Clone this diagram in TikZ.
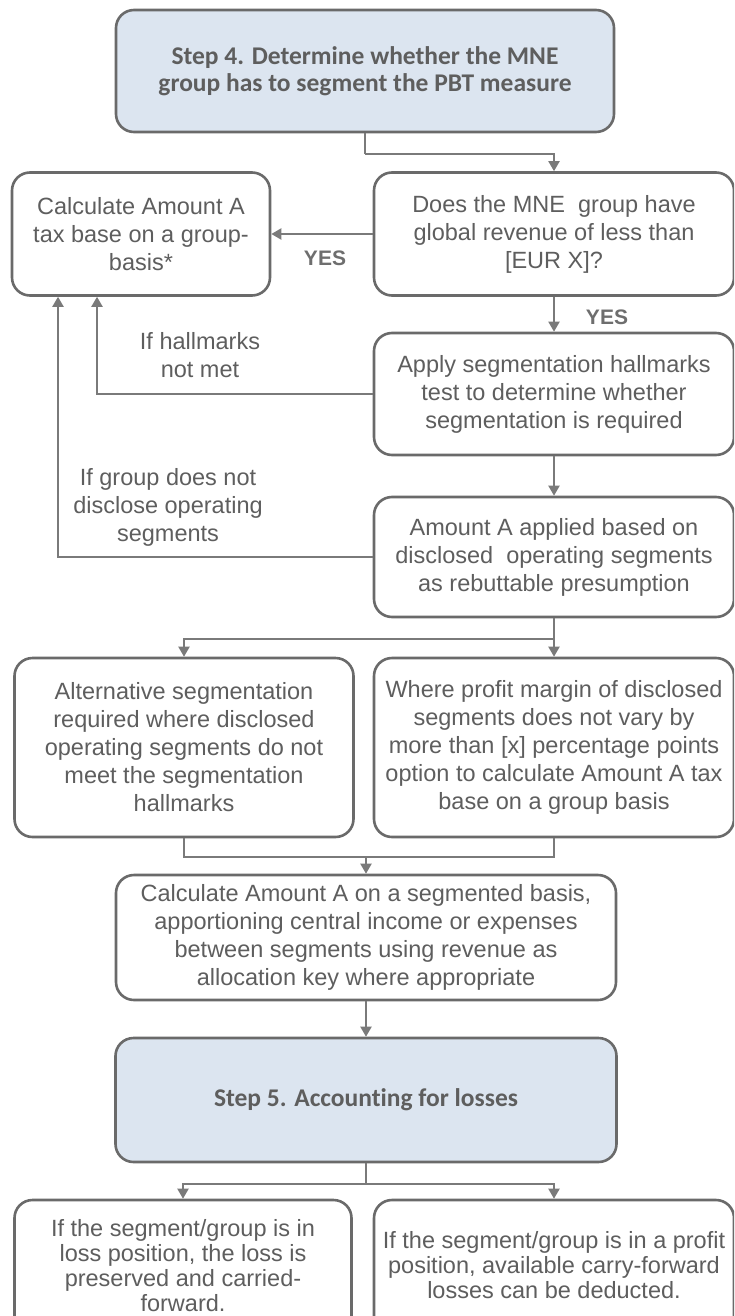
\documentclass[tikz,border=0pt]{standalone}
\usepackage{fontspec}
\setmainfont{Liberation Sans}
\newfontfamily\headfont[Ligatures=NoCommon]{Carlito}
\usetikzlibrary{arrows.meta,calc}
\definecolor{txt}{HTML}{5E5E5E}
\definecolor{brd}{HTML}{6A6A6A}
\definecolor{con}{HTML}{7A7A7A}
\definecolor{stepfill}{HTML}{DCE5F0}
\tikzset{
  box/.style={draw=brd, line width=2.6pt, rounded corners=18pt, fill=white,
    text=txt, align=center, inner sep=0pt,
    font=\fontsize{23.5}{28}\selectfont},
  stepbox/.style={box, fill=stepfill, font=\headfont\bfseries\fontsize{25.5}{27.5}\selectfont},
  lbl/.style={text=txt, align=center, font=\fontsize{23.5}{28}\selectfont, inner sep=0pt},
  yes/.style={text=txt!90, font=\bfseries\fontsize{21}{24}\selectfont, inner sep=0pt},
  conn/.style={draw=con, line width=2pt},
  arr/.style={conn, -{Triangle[width=11pt,length=10pt]}}
}
\begin{document}
\begin{tikzpicture}[x=1pt,y=-1pt]
\useasboundingbox (0,0) rectangle (734,1316);
\clip (0,0) rectangle (734,1316);
% boxes
\node[stepbox, minimum width=498, minimum height=122] (step4) at (365,71)
  {Step 4. Determine whether the MNE\\group has to segment the PBT measure};
\node[box, minimum width=360, minimum height=123] (q) at (554,234)
  {Does the MNE\ \ group have\\global revenue of less than\\{}[EUR X]?};
\node[box, minimum width=258, minimum height=123] (calc) at (141,234)
  {Calculate Amount A\\tax base on a group-\\basis*};
\node[box, minimum width=360, minimum height=122] (apply) at (554,394)
  {Apply segmentation hallmarks\\test to determine whether\\segmentation is required};
\node[box, minimum width=360, minimum height=120] (amount) at (554,557)
  {Amount A applied based on\\disclosed\ \ operating segments\\as rebuttable presumption};
\node[box, minimum width=339, minimum height=179] (alt) at (184,747.5)
  {Alternative segmentation\\required where disclosed\\operating segments do not\\meet the segmentation\\hallmarks};
\node[box, minimum width=360, minimum height=179] (margin) at (554,747.5)
  {Where profit margin of disclosed\\segments does not vary by\\more than [x] percentage points\\option to calculate Amount A tax\\base on a group basis};
\node[box, minimum width=500, minimum height=125] (seg) at (366,937.5)
  {Calculate Amount A on a segmented basis,\\apportioning central income or expenses\\between segments using revenue as\\allocation key where appropriate};
\node[stepbox, minimum width=501, minimum height=124] (step5) at (366,1100)
  {Step 5. Accounting for losses};
\node[box, minimum width=337, minimum height=140] (loss) at (183,1270)
  {\raisebox{9pt}{\shortstack{If the segment/group is in\\loss position, the loss is\\preserved and carried-\\forward.}}};
\node[box, minimum width=360, minimum height=140] (profit) at (554,1270)
  {\raisebox{10pt}{\shortstack{If the segment/group is in a profit\\position, available carry-forward\\losses can be deducted.}}};
% labels
\node[yes] (yes1) at (325,258) {YES};
\node[yes] (yes2) at (607,317) {YES};
\node[lbl] (l1) at (200,355) {If hallmarks\\not met};
\node[lbl] (l2) at (168,507) {If group does not\\disclose operating\\segments};
% connectors
\draw[conn] (step4.south) -- ++(0,21) coordinate (s4a);
\draw[arr] (s4a) -| (q.north);
\draw[arr] (q.west) -- (calc.east);
\draw[arr] (q.south) -- (apply.north);
\draw[arr] (apply.west) -| ([xshift=-44]calc.south);
\draw[arr] (apply.south) -- (amount.north);
\draw[arr] (amount.west) -| ([xshift=-83]calc.south);
\draw[conn] (amount.south) -- ++(0,21) coordinate (b1);
\draw[arr] (b1) -| (alt.north);
\draw[arr] (b1) -- (margin.north);
\draw[conn] (alt.south) -- ++(0,19) coordinate (m1) -| (margin.south);
\draw[arr] (m1 -| seg.north) -- (seg.north);
\draw[arr] (seg.south) -- (step5.north);
\draw[conn] (step5.south) -- ++(0,21) coordinate (b2);
\draw[arr] (b2) -| (loss.north);
\draw[arr] (b2) -| (profit.north);
\end{tikzpicture}
\end{document}
